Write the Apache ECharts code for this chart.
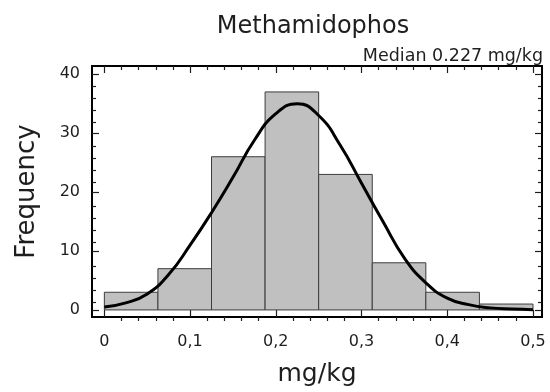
<!DOCTYPE html>
<html>
<head>
<meta charset="utf-8">
<script src="https://cdn.jsdelivr.net/npm/echarts@6/dist/echarts.min.js"></script>
<style>
  html, body { margin: 0; padding: 0; background: #fff; }
  #chart { width: 550px; height: 392px; }
</style>
</head>
<body>
<div id="chart"></div>
<script>
// histogram bins (mg/kg) and their counts
var binEdges = [0, 0.0625, 0.125, 0.1875, 0.25, 0.3125, 0.375, 0.4375, 0.5];
var counts = [3, 7, 26, 37, 23, 8, 3, 1];

// fitted curve
var curveX = [0, 0.025, 0.05, 0.075, 0.1, 0.125, 0.15, 0.175, 0.2, 0.225, 0.25, 0.275, 0.3, 0.325, 0.35, 0.375, 0.4, 0.425, 0.45, 0.475, 0.5];
var curveY = [0.5, 1.2, 2.7, 6.0, 11.0, 16.5, 22.5, 28.8, 33.3, 35.0, 33.0, 28.0, 21.5, 15.0, 8.8, 4.6, 2.0, 0.9, 0.35, 0.15, 0.05];

// tick labels
var xMajor = [0, 0.1, 0.2, 0.3, 0.4, 0.5];
var xMinor = [0.02, 0.04, 0.06, 0.08, 0.12, 0.14, 0.16, 0.18, 0.22, 0.24, 0.26, 0.28,
              0.32, 0.34, 0.36, 0.38, 0.42, 0.44, 0.46, 0.48];
var yMajor = [0, 10, 20, 30, 40];
var yMinor = [2, 4, 6, 8, 12, 14, 16, 18, 22, 24, 26, 28, 32, 34, 36, 38];

var font = 'DejaVu Sans';
var ink = '#1e1e1e';

var histData = [];
for (var i = 0; i < counts.length; i++) {
    histData.push([binEdges[i], binEdges[i + 1], counts[i]]);
}
var curveData = curveX.map(function (x, i) { return [x, curveY[i]]; });

var xMin = -0.0144, xMax = 0.5105;
var yMin = -1.2, yMax = 41.4;

// one axis = one row of inward ticks on one side of the frame
function axisDef(kind, grid, pos, values, len, labels) {
    var a = {
        type: 'value', gridIndex: grid, position: pos,
        min: kind === 'x' ? xMin : yMin,
        max: kind === 'x' ? xMax : yMax,
        axisLine: { show: false, onZero: false },
        splitLine: { show: false },
        axisTick: { show: true, inside: true, length: len, customValues: values,
                    lineStyle: { color: ink, width: 1.2 } },
        axisLabel: { show: false }
    };
    if (labels) {
        a.axisLabel = {
            show: true, customValues: values,
            margin: kind === 'x' ? 17 : 12,
            fontFamily: font, fontSize: 16, color: ink,
            formatter: function (v) { return String(v).replace('.', ','); }
        };
    }
    return a;
}

var xAxes = [
    axisDef('x', 0, 'bottom', xMajor, 7, true),
    axisDef('x', 0, 'top', xMajor, 7, false),
    axisDef('x', 1, 'bottom', xMinor, 4, false),
    axisDef('x', 1, 'top', xMinor, 4, false)
];
xAxes[0].name = 'mg/kg';
xAxes[0].nameLocation = 'middle';
xAxes[0].nameGap = 45;
xAxes[0].nameTextStyle = { fontFamily: font, fontSize: 25, color: ink };

var yAxes = [
    axisDef('y', 0, 'left', yMajor, 7, true),
    axisDef('y', 0, 'right', yMajor, 7, false),
    axisDef('y', 1, 'left', yMinor, 4, false),
    axisDef('y', 1, 'right', yMinor, 4, false)
];
yAxes[0].name = 'Frequency';
yAxes[0].nameLocation = 'middle';
yAxes[0].nameGap = 52;
yAxes[0].nameTextStyle = { fontFamily: font, fontSize: 26, color: ink };

var gridBox = { left: 92, top: 66, right: 8, bottom: 71 };

var chart = echarts.init(document.getElementById('chart'));
var option = {
    animation: false,
    backgroundColor: '#fff',
    title: [{
        text: 'Methamidophos',
        left: 308, top: 10, textAlign: 'center',
        textStyle: { fontFamily: font, fontSize: 24, fontWeight: 'normal', color: ink }
    }, {
        text: 'Median 0.227 mg/kg',
        right: 2, top: 42,
        textStyle: { fontFamily: font, fontSize: 17.5, fontWeight: 'normal', color: ink }
    }],
    grid: [
        Object.assign({ show: true, borderColor: '#000', borderWidth: 2,
                        backgroundColor: 'transparent' }, gridBox),
        Object.assign({ show: false }, gridBox)
    ],
    xAxis: xAxes,
    yAxis: yAxes,
    series: [{
        type: 'custom',
        xAxisIndex: 0, yAxisIndex: 0,
        data: histData,
        encode: { x: [0, 1], y: 2 },
        renderItem: function (params, api) {
            var p0 = api.coord([api.value(0), 0]);
            var p1 = api.coord([api.value(1), api.value(2)]);
            return {
                type: 'rect',
                shape: { x: p0[0], y: p1[1], width: p1[0] - p0[0], height: p0[1] - p1[1] },
                style: { fill: '#c0c0c0', stroke: '#3c3c3c', lineWidth: 1 }
            };
        },
        z: 2
    }, {
        type: 'line',
        xAxisIndex: 0, yAxisIndex: 0,
        data: curveData,
        smooth: true,
        showSymbol: false,
        lineStyle: { color: '#000', width: 3 },
        z: 3
    }]
};
chart.setOption(option);
window.addEventListener('resize', function () {
    chart.resize();
});
</script>
</body>
</html>
